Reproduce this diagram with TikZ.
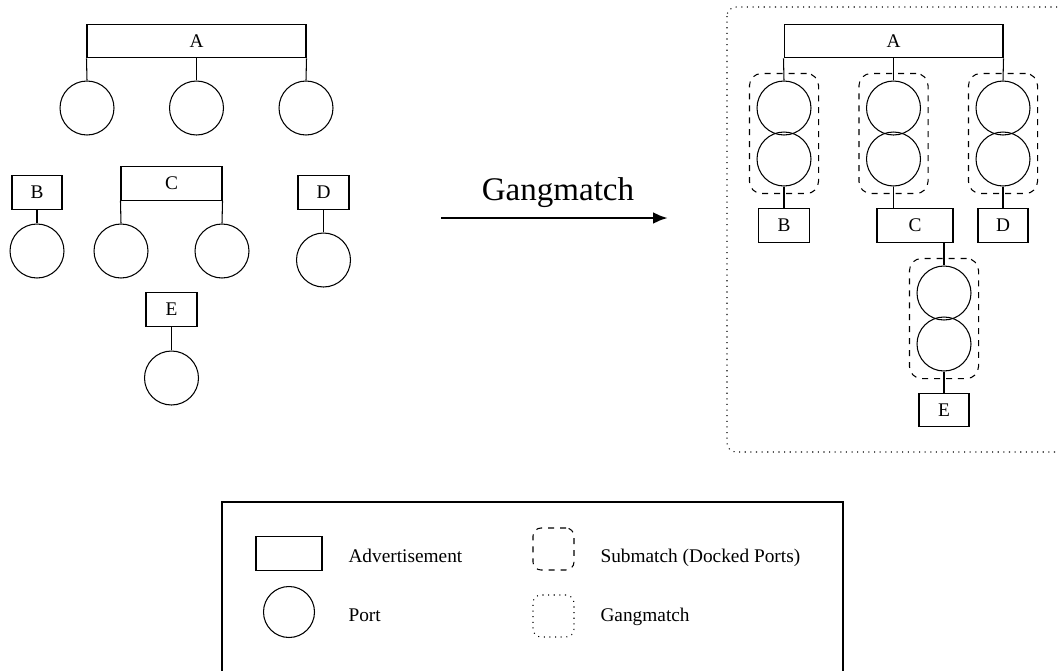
\documentclass[tikz,border=0pt]{standalone}
\usepackage{fontspec}
\setmainfont{Liberation Serif}
\usetikzlibrary{arrows.meta, fit}

\tikzset{
  advert/.style={draw, rectangle, inner sep=0pt, minimum height=0.67cm, font=\fontsize{11}{13}\selectfont},
  port/.style={draw, circle, inner sep=0pt, minimum size=1.08cm},
  submatch/.style={draw, dash pattern=on 3.4pt off 3.4pt, rounded corners=0.24cm, inner sep=0.14cm},
  gang/.style={dash pattern=on 0.6pt off 2.6pt, rounded corners=0.18cm},
  keytext/.style={anchor=base west, inner sep=0pt, font=\fontsize{11}{13}\selectfont}
}

\begin{document}
\begin{tikzpicture}[x=0.02cm, y=-0.02cm, line width=0.6pt]
        \useasboundingbox (0,0) rectangle (1058,670);
        \clip (0,0) rectangle (1058,670);

        % before the match
        \node[advert, minimum width=4.38cm] (advA) at (196.5,41) {A};
        \node[port] (portA1) at (87,108) {};
        \node[port] (portA2) at (196.5,108) {};
        \node[port] (portA3) at (306,108) {};
        \draw (advA.south west) -- (portA1.north);
        \draw (advA.south) -- (portA2.north);
        \draw (advA.south east) -- (portA3.north);

        \node[advert, minimum width=1cm] (advB) at (37,192.5) {B};
        \node[port] (portB) at (37,251) {};
        \draw (advB) -- (portB);

        \node[advert, minimum width=2.02cm] (advC) at (171.5,183.5) {C};
        \node[port] (portC1) at (121,251) {};
        \node[port] (portC2) at (222,251) {};
        \draw (advC.south west) -- (portC1.north);
        \draw (advC.south east) -- (portC2.north);

        \node[advert, minimum width=1.02cm] (advD) at (323.5,192.5) {D};
        \node[port] (portD) at (323.5,260) {};
        \draw (advD) -- (portD);

        \node[advert, minimum width=1.02cm] (advE) at (171.5,309.5) {E};
        \node[port] (portE) at (171.5,378) {};
        \draw (advE) -- (portE);

        % the arrow
        \node[font=\fontsize{18.8}{22}\selectfont] (gmLabel) at (558,193) {Gangmatch};
        \coordinate (arrowStart) at (441,218);
        \coordinate (arrowEnd) at (668,218);
        \draw[line width=1.7pt, -{Latex[length=0.3cm, width=0.24cm]}] (arrowStart) -- (arrowEnd);

        % after the match
        \draw[gang] (727,7) rectangle (1090,452);

        \node[advert, minimum width=4.38cm] (advA2) at (893.5,41) {A};

        \node[port] (dockA1) at (784,108) {};
        \node[port] (dockB1) at (784,159) {};
        \node[submatch, fit=(dockA1)(dockB1)] (subAB) {};
        \node[advert, minimum width=1.02cm] (advB2) at (784,225.5) {B};
        \draw (advA2.south west) -- (dockA1.north);
        \draw (dockB1) -- (advB2);

        \node[port] (dockA2) at (893.5,108) {};
        \node[port] (dockC1) at (893.5,159) {};
        \node[submatch, fit=(dockA2)(dockC1)] (subAC) {};
        \node[advert, minimum width=1.52cm] (advC2) at (915,225.5) {C};
        \draw (advA2.south) -- (dockA2.north);
        \draw (dockC1.south) -- (dockC1.south |- advC2.north);

        \node[port] (dockA3) at (1003,108) {};
        \node[port] (dockD1) at (1003,159) {};
        \node[submatch, fit=(dockA3)(dockD1)] (subAD) {};
        \node[advert, minimum width=1cm] (advD2) at (1003,225.5) {D};
        \draw (advA2.south east) -- (dockA3.north);
        \draw (dockD1) -- (advD2);

        \node[port] (dockC2) at (944,293) {};
        \node[port] (dockE1) at (944,344) {};
        \node[submatch, fit=(dockC2)(dockE1)] (subCE) {};
        \node[advert, minimum width=1cm] (advE2) at (944,410) {E};
        \draw (dockC2.north |- advC2.south) -- (dockC2.north);
        \draw (dockE1) -- (advE2);

        % key
        \draw (222,502) rectangle (843,700);
        \node[advert, minimum width=1.32cm] (keyAdvert) at (289,553.5) {};
        \node[keytext] (keyAdvertText) at (348,562) {Advertisement};
        \node[draw, circle, inner sep=0pt, minimum size=1.02cm] (keyPort) at (289,612) {};
        \node[keytext] (keyPortText) at (348,621) {Port};
        \node[submatch, inner sep=0pt, rounded corners=0.16cm, minimum width=0.82cm, minimum height=0.84cm] (keySubmatch) at (553.5,549) {};
        \node[keytext] (keySubmatchText) at (600,562) {Submatch (Docked Ports)};
        \node[draw, gang, inner sep=0pt, rounded corners=0.16cm, minimum width=0.82cm, minimum height=0.84cm] (keyGang) at (553.5,616) {};
        \node[keytext] (keyGangText) at (600,621) {Gangmatch};
\end{tikzpicture}
\end{document}
